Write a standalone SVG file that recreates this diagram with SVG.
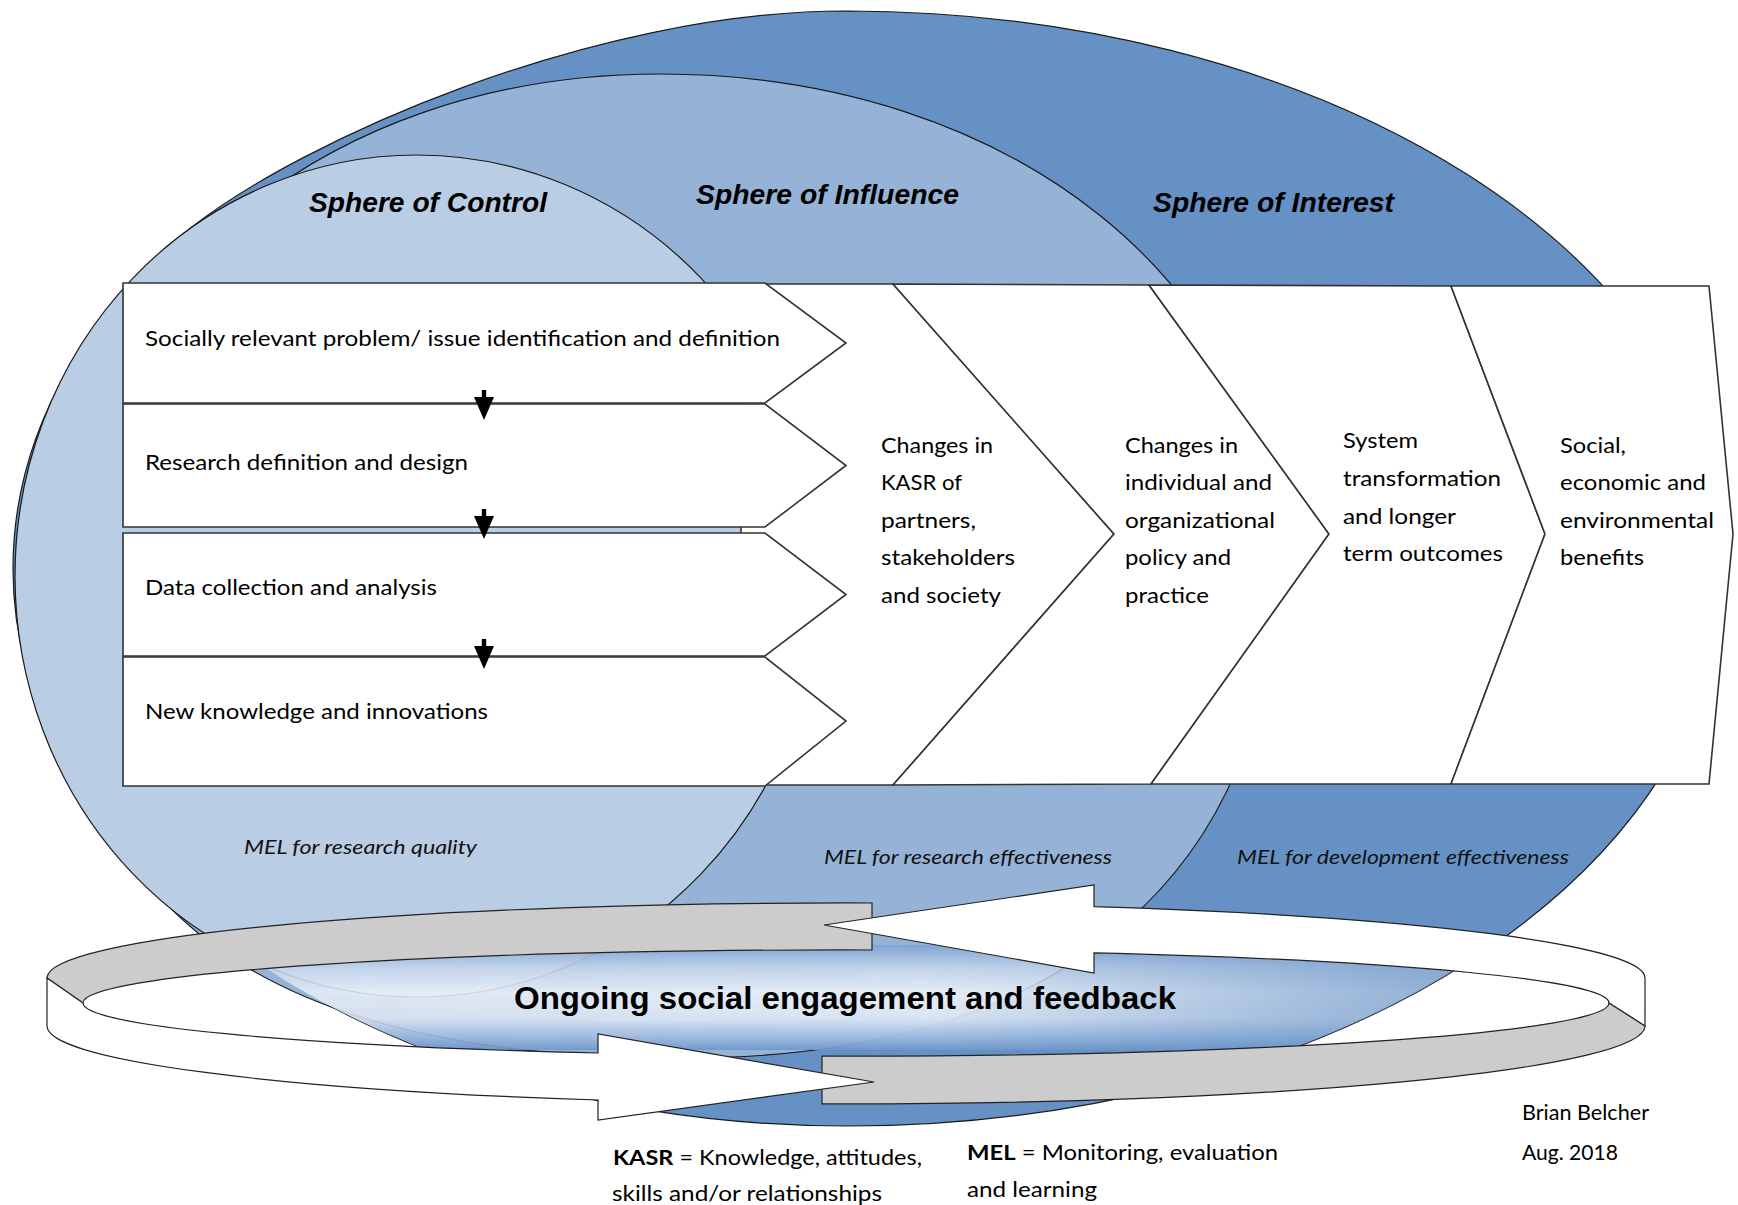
<svg xmlns="http://www.w3.org/2000/svg" width="1738" height="1205" viewBox="0 0 1738 1205">
<style>
.edge{stroke:#1a1a1a;stroke-width:1.2}
.box{fill:#fff;stroke:#333;stroke-width:1.6}
.t{font-family:Lato,"Open Sans",sans-serif;font-size:21.5px;fill:#000}
.mel{font-family:Lato,"Open Sans",sans-serif;font-size:20px;font-style:italic;fill:#111}
.sph{font-family:"Liberation Sans",Arial,sans-serif;font-size:27px;font-weight:bold;font-style:italic;fill:#000}
.ring{stroke:#222;stroke-width:1.2}
.leg{font-family:Lato,"Open Sans",sans-serif;font-size:21.5px;fill:#000}
</style>
<defs>
<clipPath id="outerClip"><path d="M847,11 A877,557.5 0 0 1 847,1126 A834,557.5 0 0 1 13,568.5 C13,420 100,300 192,227 C300,142 590,11 847,11 Z"/></clipPath>
<linearGradient id="glowV" x1="0" y1="0" x2="0" y2="1">
<stop offset="0" stop-color="#7FA3D3"/>
<stop offset="0.22" stop-color="#C3D4EB"/>
<stop offset="0.45" stop-color="#EAF0F8"/>
<stop offset="0.7" stop-color="#DCE6F3"/>
<stop offset="0.88" stop-color="#9DBADF"/>
<stop offset="1" stop-color="#6F97CB"/>
</linearGradient>
<linearGradient id="fadeH" x1="250" y1="0" x2="1480" y2="0" gradientUnits="userSpaceOnUse">
<stop offset="0" stop-color="#fff" stop-opacity="0.85"/>
<stop offset="0.55" stop-color="#fff" stop-opacity="0.95"/>
<stop offset="1" stop-color="#fff" stop-opacity="0.3"/>
</linearGradient>
<mask id="fadeMask" maskUnits="userSpaceOnUse" x="0" y="900" width="1738" height="200">
<rect x="250" y="945" width="1230" height="105" fill="url(#fadeH)"/>
</mask>
<path id="down" d="M-2.2,0 H2.2 V7 H10 L0,30 L-10,7 H-2.2 Z" fill="#000"/>
</defs>

<g id="sphere-interest">
<path d="M847,11 A877,557.5 0 0 1 847,1126 A834,557.5 0 0 1 13,568.5 C13,420 100,300 192,227 C300,142 590,11 847,11 Z" fill="#6691C5" class="edge"/>
</g>
<g id="sphere-influence">
<path d="M660,74 C1010,74 1275,285 1275,565 C1275,865 1070,1060 680,1058 C250,1058 60,900 60,600 C60,290 320,74 660,74 Z" fill="#95B3D7" class="edge"/>
</g>
<g id="sphere-control">
<ellipse cx="417" cy="576" rx="402" ry="421" fill="#B9CDE5" class="edge"/>
</g>

<g id="sphere-labels">
<text class="sph" x="309" y="212" textLength="238" lengthAdjust="spacingAndGlyphs">Sphere of Control</text>
<text class="sph" x="696" y="204" textLength="263" lengthAdjust="spacingAndGlyphs">Sphere of Influence</text>
<text class="sph" x="1153" y="212" textLength="241" lengthAdjust="spacingAndGlyphs">Sphere of Interest</text>
</g>

<g id="mel-labels">
<text class="mel" x="244" y="854" textLength="233" lengthAdjust="spacingAndGlyphs">MEL for research quality</text>
<text class="mel" x="824" y="864" textLength="288" lengthAdjust="spacingAndGlyphs">MEL for research effectiveness</text>
<text class="mel" x="1237" y="864" textLength="332" lengthAdjust="spacingAndGlyphs">MEL for development effectiveness</text>
</g>

<g id="outcome-kasr">
<path class="box" d="M741,284 H893 L1114,534 L893,785 H741 Z"/>
<text class="t" x="881" y="453" textLength="112" lengthAdjust="spacingAndGlyphs">Changes in</text>
<text class="t" x="881" y="490" textLength="81" lengthAdjust="spacingAndGlyphs">KASR of</text>
<text class="t" x="881" y="528" textLength="95" lengthAdjust="spacingAndGlyphs">partners,</text>
<text class="t" x="881" y="565" textLength="134" lengthAdjust="spacingAndGlyphs">stakeholders</text>
<text class="t" x="881" y="603" textLength="120" lengthAdjust="spacingAndGlyphs">and society</text>
</g>
<g id="outcome-policy">
<path class="box" d="M893,284 L1149,285 L1329,534 L1151,784 L893,785 L1114,534 Z"/>
<text class="t" x="1125" y="453" textLength="113" lengthAdjust="spacingAndGlyphs">Changes in</text>
<text class="t" x="1125" y="490" textLength="147" lengthAdjust="spacingAndGlyphs">individual and</text>
<text class="t" x="1125" y="528" textLength="150" lengthAdjust="spacingAndGlyphs">organizational</text>
<text class="t" x="1125" y="565" textLength="106" lengthAdjust="spacingAndGlyphs">policy and</text>
<text class="t" x="1125" y="603" textLength="84" lengthAdjust="spacingAndGlyphs">practice</text>
</g>
<g id="outcome-system">
<path class="box" d="M1149,285 L1451,286 L1545,534 L1451,784 L1151,784 L1329,534 Z"/>
<text class="t" x="1343" y="448" textLength="75" lengthAdjust="spacingAndGlyphs">System</text>
<text class="t" x="1343" y="486" textLength="158" lengthAdjust="spacingAndGlyphs">transformation</text>
<text class="t" x="1343" y="524" textLength="113" lengthAdjust="spacingAndGlyphs">and longer</text>
<text class="t" x="1343" y="561" textLength="160" lengthAdjust="spacingAndGlyphs">term outcomes</text>
</g>
<g id="outcome-benefits">
<path class="box" d="M1451,286 L1709,286 L1733,534 L1709,784 L1451,784 L1545,534 Z"/>
<text class="t" x="1560" y="453" textLength="66" lengthAdjust="spacingAndGlyphs">Social,</text>
<text class="t" x="1560" y="490" textLength="146" lengthAdjust="spacingAndGlyphs">economic and</text>
<text class="t" x="1560" y="528" textLength="154" lengthAdjust="spacingAndGlyphs">environmental</text>
<text class="t" x="1560" y="565" textLength="84" lengthAdjust="spacingAndGlyphs">benefits</text>
</g>

<g id="stage-problem">
<path class="box" d="M123,283 H765 L846,343 L765,403 H123 Z"/>
<text class="t" x="145" y="346" textLength="635" lengthAdjust="spacingAndGlyphs">Socially relevant problem/ issue identification and definition</text>
</g>
<g id="stage-design">
<path class="box" d="M123,404 H765 L846,465.5 L765,527 H123 Z"/>
<text class="t" x="145" y="470" textLength="323" lengthAdjust="spacingAndGlyphs">Research definition and design</text>
</g>
<g id="stage-data">
<path class="box" d="M123,533 H765 L846,594.5 L765,656 H123 Z"/>
<text class="t" x="145" y="595" textLength="292" lengthAdjust="spacingAndGlyphs">Data collection and analysis</text>
</g>
<g id="stage-knowledge">
<path class="box" d="M123,657 H765 L846,721 L765,786 H123 Z"/>
<text class="t" x="145" y="719" textLength="343" lengthAdjust="spacingAndGlyphs">New knowledge and innovations</text>
</g>

<g id="connectors">
<use href="#down" x="484" y="390"/>
<use href="#down" x="484" y="509"/>
<use href="#down" x="484" y="639"/>
</g>

<g id="engagement-loop">
<g clip-path="url(#outerClip)">
<rect x="250" y="945" width="1230" height="105" fill="url(#glowV)" mask="url(#fadeMask)"/>
</g>
<path class="ring" fill="#CCCCCC" d="M47,978 A799,75 0 0 1 872,903 L872,950 A763,53 0 0 0 83,1003 Z"/>
<path class="ring" fill="#FFFFFF" d="M824,925 L1094,885 L1094,906.7 A799,75 0 0 1 1645,978 L1645,1026 L1609,1003 A763,53 0 0 0 1094,952.9 L1094,973 Z"/>
<path class="ring" fill="#CCCCCC" d="M822,1056 A763,53 0 0 0 1609,1003 L1645,1026 A799,78 0 0 1 822,1103.9 Z"/>
<path class="ring" fill="#FFFFFF" d="M47,978 L83,1003 A763,53 0 0 0 598,1053 L598,1034 L874,1082 L598,1120 L598,1100 A799,78 0 0 1 47,1026 Z"/>
<text x="514" y="1009" font-family="'Liberation Sans',Arial,sans-serif" font-size="31" font-weight="bold" fill="#000" textLength="662" lengthAdjust="spacingAndGlyphs">Ongoing social engagement and feedback</text>
</g>

<g id="legend">
<text class="leg" x="613" y="1165" textLength="309" lengthAdjust="spacingAndGlyphs"><tspan font-weight="bold">KASR</tspan> = Knowledge, attitudes,</text>
<text class="leg" x="612" y="1201" textLength="270" lengthAdjust="spacingAndGlyphs">skills and/or relationships</text>
<text class="leg" x="967" y="1160" textLength="311" lengthAdjust="spacingAndGlyphs"><tspan font-weight="bold">MEL</tspan> = Monitoring, evaluation</text>
<text class="leg" x="967" y="1197" textLength="130" lengthAdjust="spacingAndGlyphs">and learning</text>
<text class="leg" x="1522" y="1120" textLength="127" lengthAdjust="spacingAndGlyphs">Brian Belcher</text>
<text class="leg" x="1522" y="1160" textLength="96" lengthAdjust="spacingAndGlyphs">Aug. 2018</text>
</g>
</svg>
